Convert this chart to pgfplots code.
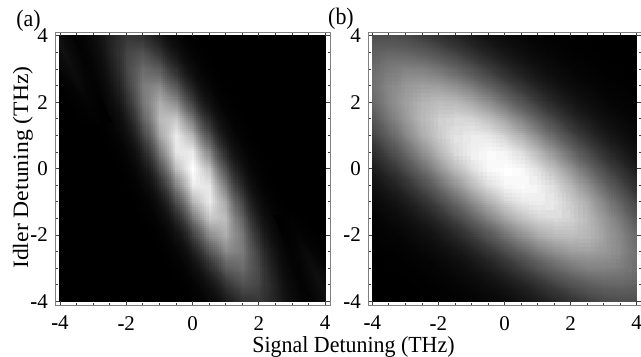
\documentclass[border=0pt]{standalone}
\usepackage{fontspec}
\setmainfont{Liberation Serif}
\usepackage{graphicx}
\usepackage{pgfplots}
\usepackage{pgfplotstable}
\usepgfplotslibrary{patchplots}
\pgfplotsset{compat=1.18}

% q = -ln(brightness), on a 0.5 THz grid
\pgfplotstableread[row sep=\\]{
x y q\\
-4 4 6.94\\-3.5 4 4.71\\-3 4 3.07\\-2.5 4 2.01\\-2 4 1.54\\-1.5 4 1.65\\-1 4 2.35\\-0.5 4 3.63\\0 4 5.50\\0.5 4 7.95\\1 4 8\\1.5 4 8\\2 4 8\\2.5 4 8\\3 4 8\\3.5 4 8\\4 4 8\\
-4 3.5 7.81\\-3.5 3.5 5.31\\-3 3.5 3.40\\-2.5 3.5 2.07\\-2 3.5 1.33\\-1.5 3.5 1.17\\-1 3.5 1.60\\-0.5 3.5 2.61\\0 3.5 4.21\\0.5 3.5 6.39\\1 3.5 8\\1.5 3.5 8\\2 3.5 8\\2.5 3.5 8\\3 3.5 8\\3.5 3.5 8\\4 3.5 8\\
-4 3 8\\-3.5 3 6.09\\-3 3 3.91\\-2.5 3 2.31\\-2 3 1.30\\-1.5 3 0.87\\-1 3 1.03\\-0.5 3 1.77\\0 3 3.10\\0.5 3 5.01\\1 3 7.51\\1.5 3 8\\2 3 8\\2.5 3 8\\3 3 8\\3.5 3 8\\4 3 8\\
-4 2.5 8\\-3.5 2.5 7.03\\-3 2.5 4.58\\-2.5 2.5 2.71\\-2 2.5 1.43\\-1.5 2.5 0.73\\-1 2.5 0.62\\-0.5 2.5 1.09\\0 2.5 2.15\\0.5 2.5 3.79\\1 2.5 6.02\\1.5 2.5 8\\2 2.5 8\\2.5 2.5 8\\3 2.5 8\\3.5 2.5 8\\4 2.5 8\\
-4 2 8\\-3.5 2 8\\-3 2 5.43\\-2.5 2 3.29\\-2 2 1.74\\-1.5 2 0.77\\-1 2 0.39\\-0.5 2 0.59\\0 2 1.38\\0.5 2 2.75\\1 2 4.71\\1.5 2 7.25\\2 2 8\\2.5 2 8\\3 2 8\\3.5 2 8\\4 2 8\\
-4 1.5 8\\-3.5 1.5 8\\-3 1.5 6.44\\-2.5 1.5 4.03\\-2 1.5 2.21\\-1.5 1.5 0.97\\-1 1.5 0.32\\-0.5 1.5 0.25\\0 1.5 0.77\\0.5 1.5 1.87\\1 1.5 3.56\\1.5 1.5 5.83\\2 1.5 8\\2.5 1.5 8\\3 1.5 8\\3.5 1.5 8\\4 1.5 8\\
-4 1 8\\-3.5 1 8\\-3 1 7.63\\-2.5 1 4.95\\-2 1 2.86\\-1.5 1 1.35\\-1 1 0.43\\-0.5 1 0.09\\0 1 0.34\\0.5 1 1.17\\1 1 2.59\\1.5 1 4.59\\2 1 7.18\\2.5 1 8\\3 1 8\\3.5 1 8\\4 1 8\\
-4 0.5 8\\-3.5 0.5 8\\-3 0.5 8\\-2.5 0.5 6.05\\-2 0.5 3.69\\-1.5 0.5 1.91\\-1 0.5 0.72\\-0.5 0.5 0.11\\0 0.5 0.09\\0.5 0.5 0.65\\1 0.5 1.80\\1.5 0.5 3.53\\2 0.5 5.85\\2.5 0.5 8\\3 0.5 8\\3.5 0.5 8\\4 0.5 8\\
-4 0 8\\-3.5 0 8\\-3 0 8\\-2.5 0 7.31\\-2 0 4.68\\-1.5 0 2.63\\-1 0 1.17\\-0.5 0 0.29\\0 0 0\\0.5 0 0.29\\1 0 1.17\\1.5 0 2.63\\2 0 4.68\\2.5 0 7.31\\3 0 8\\3.5 0 8\\4 0 8\\
-4 -0.5 8\\-3.5 -0.5 8\\-3 -0.5 8\\-2.5 -0.5 8\\-2 -0.5 5.85\\-1.5 -0.5 3.53\\-1 -0.5 1.80\\-0.5 -0.5 0.65\\0 -0.5 0.09\\0.5 -0.5 0.11\\1 -0.5 0.72\\1.5 -0.5 1.91\\2 -0.5 3.69\\2.5 -0.5 6.05\\3 -0.5 8\\3.5 -0.5 8\\4 -0.5 8\\
-4 -1 8\\-3.5 -1 8\\-3 -1 8\\-2.5 -1 8\\-2 -1 7.18\\-1.5 -1 4.59\\-1 -1 2.59\\-0.5 -1 1.17\\0 -1 0.34\\0.5 -1 0.09\\1 -1 0.43\\1.5 -1 1.35\\2 -1 2.86\\2.5 -1 4.95\\3 -1 7.63\\3.5 -1 8\\4 -1 8\\
-4 -1.5 8\\-3.5 -1.5 8\\-3 -1.5 8\\-2.5 -1.5 8\\-2 -1.5 8\\-1.5 -1.5 5.83\\-1 -1.5 3.56\\-0.5 -1.5 1.87\\0 -1.5 0.77\\0.5 -1.5 0.25\\1 -1.5 0.32\\1.5 -1.5 0.97\\2 -1.5 2.21\\2.5 -1.5 4.03\\3 -1.5 6.44\\3.5 -1.5 8\\4 -1.5 8\\
-4 -2 8\\-3.5 -2 8\\-3 -2 8\\-2.5 -2 8\\-2 -2 8\\-1.5 -2 7.25\\-1 -2 4.71\\-0.5 -2 2.75\\0 -2 1.38\\0.5 -2 0.59\\1 -2 0.39\\1.5 -2 0.77\\2 -2 1.74\\2.5 -2 3.29\\3 -2 5.43\\3.5 -2 8\\4 -2 8\\
-4 -2.5 8\\-3.5 -2.5 8\\-3 -2.5 8\\-2.5 -2.5 8\\-2 -2.5 8\\-1.5 -2.5 8\\-1 -2.5 6.02\\-0.5 -2.5 3.79\\0 -2.5 2.15\\0.5 -2.5 1.09\\1 -2.5 0.62\\1.5 -2.5 0.73\\2 -2.5 1.43\\2.5 -2.5 2.71\\3 -2.5 4.58\\3.5 -2.5 7.03\\4 -2.5 8\\
-4 -3 8\\-3.5 -3 8\\-3 -3 8\\-2.5 -3 8\\-2 -3 8\\-1.5 -3 8\\-1 -3 7.51\\-0.5 -3 5.01\\0 -3 3.10\\0.5 -3 1.77\\1 -3 1.03\\1.5 -3 0.87\\2 -3 1.30\\2.5 -3 2.31\\3 -3 3.91\\3.5 -3 6.09\\4 -3 8\\
-4 -3.5 8\\-3.5 -3.5 8\\-3 -3.5 8\\-2.5 -3.5 8\\-2 -3.5 8\\-1.5 -3.5 8\\-1 -3.5 8\\-0.5 -3.5 6.39\\0 -3.5 4.21\\0.5 -3.5 2.61\\1 -3.5 1.60\\1.5 -3.5 1.17\\2 -3.5 1.33\\2.5 -3.5 2.07\\3 -3.5 3.40\\3.5 -3.5 5.31\\4 -3.5 7.81\\
-4 -4 8\\-3.5 -4 8\\-3 -4 8\\-2.5 -4 8\\-2 -4 8\\-1.5 -4 8\\-1 -4 8\\-0.5 -4 7.95\\0 -4 5.50\\0.5 -4 3.63\\1 -4 2.35\\1.5 -4 1.65\\2 -4 1.54\\2.5 -4 2.01\\3 -4 3.07\\3.5 -4 4.71\\4 -4 6.94\\
}\tabA

% faint side lobes of panel (a), top-left and bottom-right corners
\pgfplotstableread[row sep=\\]{
x y q\\
-3.794 1.4 8\\-3.344 1.4 6.22\\-2.894 1.4 4.95\\-2.444 1.4 6.22\\
-4 2.0 8\\-3.62 2.0 5.24\\-3.17 2.0 3.97\\-2.72 2.0 5.24\\
-4 2.6 5.18\\-3.896 2.6 4.53\\-3.446 2.6 3.26\\-2.996 2.6 4.53\\
-4 3.2 3.32\\-4 3.2 3.32\\-3.722 3.2 2.84\\-3.272 3.2 4.11\\
-4 3.8 2.70\\-4 3.8 2.70\\-3.998 3.8 2.70\\-3.548 3.8 3.97\\
-4 4.0 2.77\\-4 4.0 2.77\\-4 4.0 2.77\\-3.64 4.0 3.98\\
}\lobeA
\pgfplotstableread[row sep=\\]{
x y q\\
3.794 -1.4 8\\3.344 -1.4 6.22\\2.894 -1.4 4.95\\2.444 -1.4 6.22\\
4 -2.0 8\\3.62 -2.0 5.24\\3.17 -2.0 3.97\\2.72 -2.0 5.24\\
4 -2.6 5.18\\3.896 -2.6 4.53\\3.446 -2.6 3.26\\2.996 -2.6 4.53\\
4 -3.2 3.32\\4 -3.2 3.32\\3.722 -3.2 2.84\\3.272 -3.2 4.11\\
4 -3.8 2.70\\4 -3.8 2.70\\3.998 -3.8 2.70\\3.548 -3.8 3.97\\
4 -4.0 2.77\\4 -4.0 2.77\\4 -4.0 2.77\\3.64 -4.0 3.98\\
}\lobeB

\pgfplotstableread[row sep=\\]{
x y q\\
-4 4 1.21\\-3.5 4 1.22\\-3 4 1.29\\-2.5 4 1.44\\-2 4 1.65\\-1.5 4 1.94\\-1 4 2.29\\-0.5 4 2.71\\0 4 3.20\\0.5 4 3.76\\1 4 4.39\\1.5 4 5.08\\2 4 5.85\\2.5 4 6.68\\3 4 7.58\\3.5 4 8\\4 4 8\\
-4 3.5 0.98\\-3.5 3.5 0.92\\-3 3.5 0.94\\-2.5 3.5 1.02\\-2 3.5 1.17\\-1.5 3.5 1.38\\-1 3.5 1.67\\-0.5 3.5 2.03\\0 3.5 2.45\\0.5 3.5 2.94\\1 3.5 3.50\\1.5 3.5 4.13\\2 3.5 4.83\\2.5 3.5 5.60\\3 3.5 6.44\\3.5 3.5 7.34\\4 3.5 8\\
-4 3 0.86\\-3.5 3 0.73\\-3 3 0.68\\-2.5 3 0.69\\-2 3 0.78\\-1.5 3 0.93\\-1 3 1.15\\-0.5 3 1.44\\0 3 1.80\\0.5 3 2.23\\1 3 2.72\\1.5 3 3.29\\2 3 3.92\\2.5 3 4.62\\3 3 5.40\\3.5 3 6.24\\4 3 7.14\\
-4 2.5 0.83\\-3.5 2.5 0.64\\-3 2.5 0.52\\-2.5 2.5 0.47\\-2 2.5 0.49\\-1.5 2.5 0.58\\-1 2.5 0.73\\-0.5 2.5 0.96\\0 2.5 1.25\\0.5 2.5 1.61\\1 2.5 2.04\\1.5 2.5 2.54\\2 2.5 3.11\\2.5 2.5 3.75\\3 2.5 4.45\\3.5 2.5 5.23\\4 2.5 6.07\\
-4 2 0.90\\-3.5 2 0.65\\-3 2 0.47\\-2.5 2 0.35\\-2 2 0.30\\-1.5 2 0.32\\-1 2 0.41\\-0.5 2 0.57\\0 2 0.80\\0.5 2 1.10\\1 2 1.46\\1.5 2 1.90\\2 2 2.40\\2.5 2 2.97\\3 2 3.61\\3.5 2 4.32\\4 2 5.10\\
-4 1.5 1.08\\-3.5 1.5 0.76\\-3 1.5 0.51\\-2.5 1.5 0.33\\-2 1.5 0.21\\-1.5 1.5 0.17\\-1 1.5 0.19\\-0.5 1.5 0.29\\0 1.5 0.45\\0.5 1.5 0.68\\1 1.5 0.98\\1.5 1.5 1.35\\2 1.5 1.79\\2.5 1.5 2.29\\3 1.5 2.87\\3.5 1.5 3.51\\4 1.5 4.22\\
-4 1 1.35\\-3.5 1 0.97\\-3 1 0.65\\-2.5 1 0.40\\-2 1 0.23\\-1.5 1 0.12\\-1 1 0.08\\-0.5 1 0.10\\0 1 0.20\\0.5 1 0.37\\1 1 0.60\\1.5 1 0.90\\2 1 1.27\\2.5 1 1.71\\3 1 2.22\\3.5 1 2.80\\4 1 3.45\\
-4 0.5 1.73\\-3.5 0.5 1.28\\-3 0.5 0.89\\-2.5 0.5 0.58\\-2 0.5 0.34\\-1.5 0.5 0.16\\-1 0.5 0.06\\-0.5 0.5 0.02\\0 0.5 0.05\\0.5 0.5 0.15\\1 0.5 0.32\\1.5 0.5 0.56\\2 0.5 0.86\\2.5 0.5 1.24\\3 0.5 1.68\\3.5 0.5 2.19\\4 0.5 2.77\\
-4 0 2.20\\-3.5 0 1.68\\-3 0 1.24\\-2.5 0 0.86\\-2 0 0.55\\-1.5 0 0.31\\-1 0 0.14\\-0.5 0 0.03\\0 0 0\\0.5 0 0.03\\1 0 0.14\\1.5 0 0.31\\2 0 0.55\\2.5 0 0.86\\3 0 1.24\\3.5 0 1.68\\4 0 2.20\\
-4 -0.5 2.77\\-3.5 -0.5 2.19\\-3 -0.5 1.68\\-2.5 -0.5 1.24\\-2 -0.5 0.86\\-1.5 -0.5 0.56\\-1 -0.5 0.32\\-0.5 -0.5 0.15\\0 -0.5 0.05\\0.5 -0.5 0.02\\1 -0.5 0.06\\1.5 -0.5 0.16\\2 -0.5 0.34\\2.5 -0.5 0.58\\3 -0.5 0.89\\3.5 -0.5 1.28\\4 -0.5 1.73\\
-4 -1 3.45\\-3.5 -1 2.80\\-3 -1 2.22\\-2.5 -1 1.71\\-2 -1 1.27\\-1.5 -1 0.90\\-1 -1 0.60\\-0.5 -1 0.37\\0 -1 0.20\\0.5 -1 0.10\\1 -1 0.08\\1.5 -1 0.12\\2 -1 0.23\\2.5 -1 0.40\\3 -1 0.65\\3.5 -1 0.97\\4 -1 1.35\\
-4 -1.5 4.22\\-3.5 -1.5 3.51\\-3 -1.5 2.87\\-2.5 -1.5 2.29\\-2 -1.5 1.79\\-1.5 -1.5 1.35\\-1 -1.5 0.98\\-0.5 -1.5 0.68\\0 -1.5 0.45\\0.5 -1.5 0.29\\1 -1.5 0.19\\1.5 -1.5 0.17\\2 -1.5 0.21\\2.5 -1.5 0.33\\3 -1.5 0.51\\3.5 -1.5 0.76\\4 -1.5 1.08\\
-4 -2 5.10\\-3.5 -2 4.32\\-3 -2 3.61\\-2.5 -2 2.97\\-2 -2 2.40\\-1.5 -2 1.90\\-1 -2 1.46\\-0.5 -2 1.10\\0 -2 0.80\\0.5 -2 0.57\\1 -2 0.41\\1.5 -2 0.32\\2 -2 0.30\\2.5 -2 0.35\\3 -2 0.47\\3.5 -2 0.65\\4 -2 0.90\\
-4 -2.5 6.07\\-3.5 -2.5 5.23\\-3 -2.5 4.45\\-2.5 -2.5 3.75\\-2 -2.5 3.11\\-1.5 -2.5 2.54\\-1 -2.5 2.04\\-0.5 -2.5 1.61\\0 -2.5 1.25\\0.5 -2.5 0.96\\1 -2.5 0.73\\1.5 -2.5 0.58\\2 -2.5 0.49\\2.5 -2.5 0.47\\3 -2.5 0.52\\3.5 -2.5 0.64\\4 -2.5 0.83\\
-4 -3 7.14\\-3.5 -3 6.24\\-3 -3 5.40\\-2.5 -3 4.62\\-2 -3 3.92\\-1.5 -3 3.29\\-1 -3 2.72\\-0.5 -3 2.23\\0 -3 1.80\\0.5 -3 1.44\\1 -3 1.15\\1.5 -3 0.93\\2 -3 0.78\\2.5 -3 0.69\\3 -3 0.68\\3.5 -3 0.73\\4 -3 0.86\\
-4 -3.5 8\\-3.5 -3.5 7.34\\-3 -3.5 6.44\\-2.5 -3.5 5.60\\-2 -3.5 4.83\\-1.5 -3.5 4.13\\-1 -3.5 3.50\\-0.5 -3.5 2.94\\0 -3.5 2.45\\0.5 -3.5 2.03\\1 -3.5 1.67\\1.5 -3.5 1.38\\2 -3.5 1.17\\2.5 -3.5 1.02\\3 -3.5 0.94\\3.5 -3.5 0.92\\4 -3.5 0.98\\
-4 -4 8\\-3.5 -4 8\\-3 -4 7.58\\-2.5 -4 6.68\\-2 -4 5.85\\-1.5 -4 5.08\\-1 -4 4.39\\-0.5 -4 3.76\\0 -4 3.20\\0.5 -4 2.71\\1 -4 2.29\\1.5 -4 1.94\\2 -4 1.65\\2.5 -4 1.44\\3 -4 1.29\\3.5 -4 1.22\\4 -4 1.21\\
}\tabB

\newcommand{\ms}{{\bfseries -}}

\pgfplotsset{
  jsa/.style={
    scale only axis, height=273bp,
    ymin=-4.11, ymax=4.11,
    xtick={-4,-2,0,2,4}, ytick={-4,-2,0,2,4},
    xticklabels={\ms4,\ms2,0,2,4},
    yticklabels={\ms4,\ms2,0,2,4},
    minor tick num=3, tick align=inside,
    major tick length=4bp, minor tick length=2.5bp,
    axis line style={draw=black!50, line width=0.9pt},
    tick style={draw=black!75, line width=0.7pt},
    tick label style={font=\fontsize{21}{21}\selectfont},
    xticklabel style={anchor=north, inner sep=0pt, yshift=-11bp},
    yticklabel style={anchor=east, inner sep=0pt, xshift=-7bp},
    colormap={jsa}{gray(0cm)=(1); gray(0.25cm)=(0.779); gray(0.5cm)=(0.607);
      gray(0.75cm)=(0.472); gray(1cm)=(0.368); gray(1.5cm)=(0.223);
      gray(2cm)=(0.135); gray(2.5cm)=(0.082); gray(3cm)=(0.05);
      gray(4cm)=(0.018); gray(5cm)=(0.007); gray(6cm)=(0.002); gray(8cm)=(0)},
    point meta min=0, point meta max=8,
    axis on top,
  },
  dens/.style={surf, shader=interp, patch type=bilinear, point meta=explicit},
}

\begin{document}
\begin{tikzpicture}[x=1bp,y=1bp]
\begin{axis}[jsa, at={(55bp,51bp)}, anchor=south west, width=275bp,
  xmin=-4.15, xmax=4.15]
  \addplot[dens, mesh/cols=17] table[x=x, y=y, meta=q] {\tabA};
  \addplot[dens, mesh/cols=4] table[x=x, y=y, meta=q] {\lobeA};
  \addplot[dens, mesh/cols=4] table[x=x, y=y, meta=q] {\lobeB};
\end{axis}
\begin{axis}[jsa, at={(368bp,51bp)}, anchor=south west, width=273bp,
  xmin=-4.13, xmax=4.13]
  \addplot[dens, mesh/cols=17] table[x=x, y=y, meta=q] {\tabB};
\end{axis}
\node[font=\fontsize{22}{22}\selectfont, inner sep=0pt] at (28.5,335) {\scalebox{1}[1.08]{(a)}};
\node[font=\fontsize{22}{22}\selectfont, inner sep=0pt] at (341,337) {\scalebox{1}[1.08]{(b)}};
\node[font=\fontsize{22}{22}\selectfont, anchor=base, inner sep=0pt] at (353.5,4) {\scalebox{1}[1.05]{Signal Detuning (THz)}};
\node[font=\fontsize{22}{22}\selectfont, anchor=base, rotate=90, inner sep=0pt] at (28,188.5) {\scalebox{1.08}[1]{Idler Detuning (THz)}};
\pgfresetboundingbox
\useasboundingbox (0,0) rectangle (641,356);
\end{tikzpicture}
\end{document}
